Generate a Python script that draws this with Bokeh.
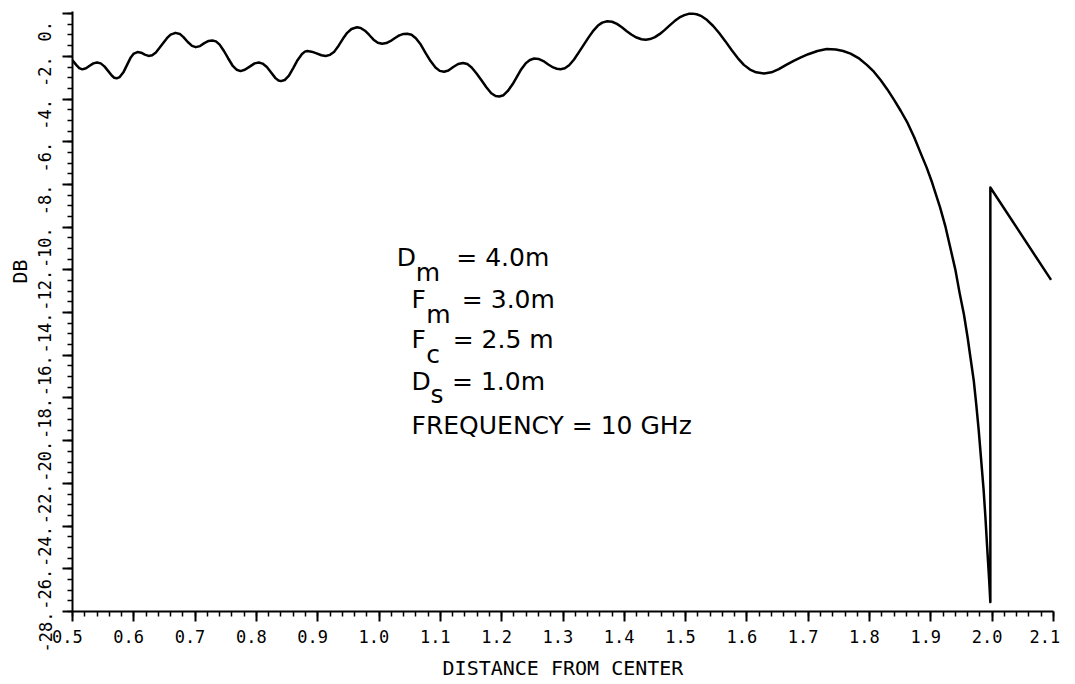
import numpy as np
from bokeh.plotting import figure
from bokeh.models import FixedTicker, CustomJSTickFormatter, Label, Range1d, Title
from bokeh.embed import file_html
from bokeh.resources import INLINE

# ---- data ----
distance = [
    0.500, 0.506, 0.511, 0.516, 0.522, 0.528, 0.534, 0.540, 0.546, 0.552,
    0.558, 0.564, 0.568, 0.572, 0.577, 0.583, 0.589, 0.595, 0.600, 0.606,
    0.612, 0.618, 0.624, 0.630, 0.636, 0.642, 0.648, 0.654, 0.660, 0.668,
    0.675, 0.681, 0.688, 0.695, 0.701, 0.708, 0.715, 0.722, 0.728, 0.734,
    0.740, 0.747, 0.754, 0.761, 0.768, 0.774, 0.781, 0.789, 0.797, 0.804,
    0.810, 0.817, 0.824, 0.831, 0.836, 0.840, 0.846, 0.853, 0.860, 0.867,
    0.874, 0.879, 0.883, 0.890, 0.898, 0.906, 0.913, 0.920, 0.927, 0.934,
    0.941, 0.948, 0.955, 0.964, 0.970, 0.977, 0.984, 0.991, 0.998, 1.005,
    1.012, 1.019, 1.026, 1.033, 1.040, 1.046, 1.053, 1.060, 1.068, 1.076,
    1.084, 1.092, 1.099, 1.106, 1.113, 1.121, 1.129, 1.137, 1.144, 1.151,
    1.159, 1.167, 1.175, 1.183, 1.190, 1.196, 1.203, 1.210, 1.218, 1.225,
    1.232, 1.239, 1.246, 1.253, 1.260, 1.268, 1.276, 1.284, 1.290, 1.296,
    1.303, 1.310, 1.318, 1.326, 1.334, 1.342, 1.350, 1.357, 1.364, 1.372,
    1.380, 1.388, 1.396, 1.404, 1.412, 1.420, 1.428, 1.435, 1.442, 1.450,
    1.458, 1.466, 1.474, 1.482, 1.490, 1.498, 1.505, 1.511, 1.518, 1.526,
    1.535, 1.545, 1.555, 1.565, 1.575, 1.585, 1.595, 1.605, 1.615, 1.628,
    1.640, 1.652, 1.664, 1.677, 1.688, 1.700, 1.715, 1.730, 1.745, 1.757,
    1.769, 1.782, 1.796, 1.807, 1.818, 1.829, 1.840, 1.851, 1.862, 1.873,
    1.883, 1.893, 1.902, 1.915, 1.924, 1.932, 1.940, 1.947, 1.954, 1.960,
    1.965, 1.970, 1.974, 1.978, 1.982, 1.986, 1.989, 1.992, 1.995, 1.997,
    1.997, 2.096,
]
db = [
    -2.19, -2.40, -2.55, -2.61, -2.56, -2.44, -2.33, -2.29, -2.33, -2.47,
    -2.68, -2.90, -3.00, -3.03, -2.97, -2.75, -2.40, -2.05, -1.87, -1.80,
    -1.83, -1.92, -1.98, -1.95, -1.82, -1.60, -1.37, -1.15, -0.98, -0.90,
    -0.95, -1.10, -1.33, -1.51, -1.57, -1.52, -1.38, -1.28, -1.26, -1.30,
    -1.45, -1.75, -2.10, -2.43, -2.63, -2.69, -2.63, -2.48, -2.33, -2.29,
    -2.34, -2.50, -2.76, -3.02, -3.13, -3.16, -3.11, -2.90, -2.55, -2.18,
    -1.90, -1.78, -1.75, -1.78, -1.86, -1.95, -1.98, -1.93, -1.78, -1.50,
    -1.18, -0.90, -0.72, -0.64, -0.67, -0.80, -1.00, -1.22, -1.36, -1.41,
    -1.38, -1.28, -1.14, -1.02, -0.95, -0.94, -0.99, -1.15, -1.45, -1.85,
    -2.22, -2.52, -2.68, -2.72, -2.66, -2.50, -2.36, -2.31, -2.36, -2.52,
    -2.80, -3.12, -3.45, -3.73, -3.86, -3.88, -3.82, -3.62, -3.30, -2.95,
    -2.60, -2.33, -2.17, -2.10, -2.12, -2.22, -2.38, -2.52, -2.58, -2.60,
    -2.56, -2.42, -2.15, -1.80, -1.45, -1.10, -0.78, -0.56, -0.42, -0.36,
    -0.38, -0.48, -0.64, -0.82, -0.99, -1.12, -1.20, -1.22, -1.19, -1.10,
    -0.95, -0.76, -0.55, -0.35, -0.18, -0.07, -0.01, 0.00, -0.03, -0.12,
    -0.30, -0.58, -0.92, -1.30, -1.70, -2.08, -2.40, -2.62, -2.75, -2.80,
    -2.75, -2.60, -2.40, -2.20, -2.05, -1.90, -1.75, -1.66, -1.68, -1.75,
    -1.87, -2.08, -2.41, -2.72, -3.11, -3.55, -4.04, -4.56, -5.12, -5.80,
    -6.51, -7.20, -7.91, -9.07, -10.0, -11.0, -12.0, -13.1, -14.1, -15.18,
    -16.2, -17.2, -18.3, -19.51, -20.9, -22.3, -23.6, -25.08, -26.5, -27.56,
    -8.14, -12.47,
]
assert len(distance) == len(db)

x_ticks = [0.5, 0.6, 0.7, 0.8, 0.9, 1.0, 1.1, 1.2, 1.3, 1.4, 1.5, 1.6, 1.7, 1.8, 1.9, 2.0, 2.1]
y_ticks = [-28, -26, -24, -22, -20, -18, -16, -14, -12, -10, -8, -6, -4, -2, 0]

x_title = "DISTANCE FROM CENTER"
y_title = "DB"

FONT_AX = "DejaVu Sans Mono"
FONT_TX = "DejaVu Sans"

p = figure(width=1070, height=682, output_backend="svg", toolbar_location=None,
           x_range=Range1d(0.5, 2.1), y_range=Range1d(-28, 0.1),
           min_border_left=72, min_border_right=17, min_border_top=11,
           min_border_bottom=66, background_fill_color="white",
           border_fill_color="white")
p.outline_line_color = None
p.grid.visible = False

p.line(distance, db, line_color="black", line_width=2.5, line_join="round")

def style_axis(a):
    a.major_label_text_font = FONT_AX
    a.major_label_text_font_size = "17px"
    a.major_label_text_color = "black"
    a.major_tick_out = 10
    a.major_tick_in = 0
    a.minor_tick_out = 5
    a.minor_tick_in = 0
    a.axis_line_width = 2
    a.major_tick_line_width = 2
    a.minor_tick_line_width = 1.5
    a.axis_line_color = "black"
    a.major_tick_line_color = "black"
    a.minor_tick_line_color = "black"

# x axis
xa = p.xaxis[0]
style_axis(xa)
xa.ticker = FixedTicker(ticks=x_ticks,
                        minor_ticks=list(np.round(np.arange(0.5, 2.1001, 0.02), 3)))
xa.formatter = CustomJSTickFormatter(code="return tick.toFixed(1) + '\\u00a0';")
xa.major_label_standoff = 5
xa.axis_label = x_title
xa.axis_label_text_font = FONT_AX
xa.axis_label_text_font_size = "20px"
xa.axis_label_text_font_style = "normal"
xa.axis_label_text_color = "black"
xa.axis_label_standoff = 6

# y axis
ya = p.yaxis[0]
style_axis(ya)
ya.ticker = FixedTicker(ticks=y_ticks,
                        minor_ticks=list(np.arange(-28, 0.001, 0.5)))
ya.formatter = CustomJSTickFormatter(
    code="var s = tick.toFixed(0) + '.'; return s + '\\u00a0'.repeat(s.length);")
ya.major_label_orientation = "vertical"
ya.major_label_standoff = 7

p.add_layout(Title(text=y_title, align="right", offset=248, text_font=FONT_AX,
                   text_font_size="20px", text_font_style="normal",
                   text_color="black", standoff=2), "left")

# annotation block
def lab(x, y, t):
    p.add_layout(Label(x=x, y=y, text=t, text_font=FONT_TX, text_font_size="25px",
                       text_color="black", text_baseline="alphabetic", text_align="left"))

lab(1.029, -11.43, "D"); lab(1.060, -12.13, "m"); lab(1.126, -11.43, "= 4.0m")
lab(1.053, -13.38, "F"); lab(1.077, -14.08, "m"); lab(1.135, -13.38, "= 3.0m")
lab(1.053, -15.28, "F"); lab(1.077, -15.98, "c"); lab(1.120, -15.28, "= 2.5 m")
lab(1.053, -17.23, "D"); lab(1.084, -17.83, "s"); lab(1.119, -17.23, "= 1.0m")
lab(1.053, -19.28, "FREQUENCY = 10 GHz")

open("out.html", "w").write(file_html(p, INLINE))
